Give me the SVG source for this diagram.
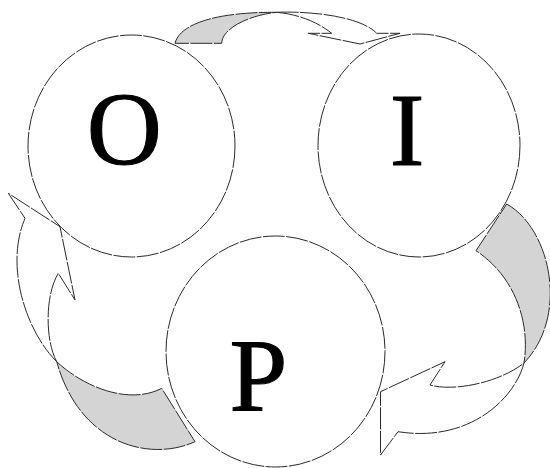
<svg xmlns="http://www.w3.org/2000/svg" width="550" height="468" viewBox="0 0 550 468">
<style>
.ln{stroke:#2a2a2a;stroke-width:1;stroke-dasharray:22 1.5;stroke-linejoin:miter}
.back{fill:#d4d4d4}
.front{fill:#ffffff}
.node{fill:#ffffff}
.lbl{font-family:"Liberation Serif","Times New Roman",serif;font-size:104px;fill:#000;stroke:#000;stroke-width:1.1;text-anchor:middle}
</style>
<rect width="550" height="468" fill="#ffffff"/>
<g id="connectors">
  <g id="arrow-O-I">
    <path class="ln back" d="M175,43.3 C180,24 215,12 276.7,12.3 C250,15 222,28 221.7,43.3 Z"/>
    <path class="ln front" d="M276.7,12.3 C310,11 360,16 376.7,33.3 L400,33.3 L360,44 L308.3,33.3 L331.7,33.3 C315,20 295,14 276.7,12.3 Z"/>
  </g>
  <g id="arrow-I-P">
    <path class="ln back" d="M506.7,204 C550,228 570,315 524,363 C530,325 517,278 476,250.7 Z"/>
    <path class="ln front" d="M524,363 C515,398 470,443 398,431.7 L380.5,455 L380.5,391.7 L445,361.7 L430,385 C455,392 500,382 524,363 Z"/>
  </g>
  <g id="arrow-P-O">
    <path class="ln back" d="M56.7,361.7 C85,388 130,405 161.7,388.3 L195,441.7 C150,462 80,445 56.7,361.7 Z"/>
    <path class="ln front" d="M56.7,361.7 C25,330 5,265 25,218.3 L8.3,193.3 L60,226.7 L75,300 L58.3,273.3 C45,295 45,340 56.7,361.7 Z"/>
  </g>
</g>
<g id="node-O">
  <ellipse class="ln node" cx="131.5" cy="146" rx="103.5" ry="111"/>
  <text class="lbl" x="124.3" y="164">O</text>
</g>
<g id="node-I">
  <ellipse class="ln node" cx="419" cy="145.5" rx="101" ry="111.5"/>
  <text class="lbl" x="407" y="165">I</text>
</g>
<g id="node-P">
  <ellipse class="ln node" cx="275.5" cy="351.5" rx="109.5" ry="115.5"/>
  <text class="lbl" x="258.5" y="411">P</text>
</g>
</svg>
